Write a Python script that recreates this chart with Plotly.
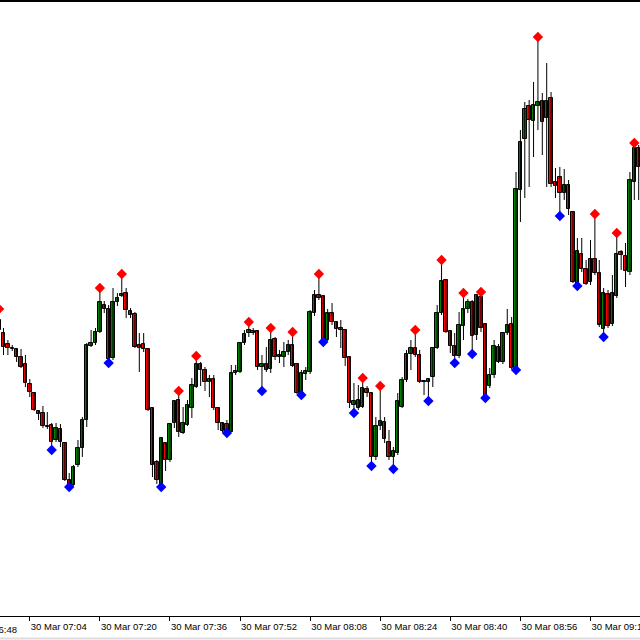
import plotly.graph_objects as go
import pandas as pd

# ---- data (M1 candles, 30 Mar, first bar 06:57) ----
start_time = "2023-03-30 06:57"
opens = [1.08296, 1.08283, 1.08272, 1.08268, 1.08267, 1.08259, 1.08252, 1.08232, 1.08223, 1.08205,
         1.08203, 1.08190, 1.08191, 1.08176, 1.08187, 1.08173, 1.08136, 1.08131, 1.08151, 1.08168,
         1.08196, 1.08270, 1.08273, 1.08284, 1.08311, 1.08307, 1.08258, 1.08314, 1.08320, 1.08323,
         1.08305, 1.08302, 1.08271, 1.08272, 1.08267, 1.08208, 1.08154, 1.08130, 1.08173, 1.08156,
         1.08193, 1.08216, 1.08183, 1.08191, 1.08208, 1.08229, 1.08252, 1.08246, 1.08234, 1.08237,
         1.08208, 1.08193, 1.08192, 1.08184, 1.08243, 1.08244, 1.08273, 1.08283, 1.08283, 1.08285,
         1.08249, 1.08252, 1.08247, 1.08277, 1.08261, 1.08259, 1.08264, 1.08271, 1.08252, 1.08222,
         1.08242, 1.08244, 1.08303, 1.08321, 1.08320, 1.08276, 1.08303, 1.08294, 1.08288, 1.08286,
         1.08259, 1.08211, 1.08208, 1.08209, 1.08227, 1.08223, 1.08159, 1.08190, 1.08194, 1.08174,
         1.08159, 1.08163, 1.08209, 1.08236, 1.08262, 1.08268, 1.08261, 1.08235, 1.08234, 1.08239,
         1.08268, 1.08303, 1.08336, 1.08285, 1.08270, 1.08260, 1.08290, 1.08307, 1.08314, 1.08281,
         1.08319, 1.08292, 1.08230, 1.08241, 1.08269, 1.08254, 1.08283, 1.08292, 1.08248, 1.08426,
         1.08477, 1.08510, 1.08495, 1.08510, 1.08515, 1.08498, 1.08518, 1.08434, 1.08439, 1.08423,
         1.08431, 1.08404, 1.08331, 1.08362, 1.08347, 1.08334, 1.08357, 1.08343, 1.08287, 1.08322,
         1.08292, 1.08320, 1.08364, 1.08360, 1.08344, 1.08434, 1.08468]
highs = [1.08307, 1.08288, 1.08276, 1.08271, 1.08268, 1.08267, 1.08261, 1.08237, 1.08224, 1.08206,
         1.08210, 1.08204, 1.08193, 1.08193, 1.08192, 1.08174, 1.08143, 1.08151, 1.08176, 1.08199,
         1.08273, 1.08286, 1.08288, 1.08328, 1.08315, 1.08311, 1.08328, 1.08323, 1.08342, 1.08328,
         1.08308, 1.08304, 1.08283, 1.08283, 1.08268, 1.08209, 1.08156, 1.08179, 1.08174, 1.08193,
         1.08216, 1.08225, 1.08209, 1.08216, 1.08238, 1.08260, 1.08254, 1.08249, 1.08241, 1.08241,
         1.08209, 1.08194, 1.08196, 1.08251, 1.08251, 1.08274, 1.08286, 1.08294, 1.08288, 1.08286,
         1.08261, 1.08269, 1.08288, 1.08279, 1.08266, 1.08274, 1.08276, 1.08284, 1.08253, 1.08246,
         1.08249, 1.08306, 1.08326, 1.08342, 1.08321, 1.08307, 1.08313, 1.08295, 1.08296, 1.08287,
         1.08260, 1.08233, 1.08231, 1.08238, 1.08230, 1.08224, 1.08199, 1.08230, 1.08199, 1.08186,
         1.08169, 1.08223, 1.08239, 1.08266, 1.08276, 1.08286, 1.08266, 1.08236, 1.08238, 1.08269,
         1.08311, 1.08356, 1.08337, 1.08286, 1.08283, 1.08304, 1.08323, 1.08317, 1.08316, 1.08322,
         1.08324, 1.08293, 1.08248, 1.08276, 1.08272, 1.08284, 1.08307, 1.08299, 1.08444, 1.08486,
         1.08514, 1.08516, 1.08534, 1.08579, 1.08523, 1.08553, 1.08524, 1.08448, 1.08449, 1.08447,
         1.08436, 1.08405, 1.08378, 1.08378, 1.08356, 1.08376, 1.08402, 1.08356, 1.08328, 1.08326,
         1.08341, 1.08383, 1.08366, 1.08373, 1.08444, 1.08473, 1.08471]
lows = [1.08282, 1.08261, 1.08261, 1.08265, 1.08254, 1.08248, 1.08229, 1.08219, 1.08205, 1.08196,
        1.08188, 1.08187, 1.08166, 1.08174, 1.08169, 1.08135, 1.08129, 1.08130, 1.08149, 1.08159,
        1.08189, 1.08269, 1.08271, 1.08283, 1.08303, 1.08253, 1.08256, 1.08310, 1.08319, 1.08298,
        1.08298, 1.08268, 1.08244, 1.08264, 1.08205, 1.08139, 1.08132, 1.08129, 1.08145, 1.08154,
        1.08188, 1.08179, 1.08182, 1.08190, 1.08198, 1.08228, 1.08230, 1.08225, 1.08219, 1.08206,
        1.08186, 1.08184, 1.08183, 1.08184, 1.08241, 1.08243, 1.08271, 1.08279, 1.08281, 1.08246,
        1.08225, 1.08244, 1.08243, 1.08256, 1.08253, 1.08249, 1.08261, 1.08249, 1.08222, 1.08221,
        1.08236, 1.08242, 1.08300, 1.08316, 1.08274, 1.08275, 1.08291, 1.08279, 1.08268, 1.08250,
        1.08208, 1.08203, 1.08206, 1.08208, 1.08219, 1.08150, 1.08156, 1.08186, 1.08173, 1.08156,
        1.08147, 1.08161, 1.08208, 1.08234, 1.08246, 1.08259, 1.08233, 1.08221, 1.08215, 1.08229,
        1.08267, 1.08301, 1.08283, 1.08263, 1.08253, 1.08258, 1.08276, 1.08303, 1.08262, 1.08276,
        1.08284, 1.08218, 1.08228, 1.08238, 1.08253, 1.08252, 1.08281, 1.08247, 1.08246, 1.08394,
        1.08418, 1.08429, 1.08459, 1.08486, 1.08461, 1.08429, 1.08429, 1.08418, 1.08400, 1.08416,
        1.08401, 1.08333, 1.08330, 1.08344, 1.08331, 1.08331, 1.08341, 1.08289, 1.08279, 1.08288,
        1.08290, 1.08318, 1.08346, 1.08329, 1.08341, 1.08416, 1.08416]
closes = [1.08286, 1.08269, 1.08268, 1.08267, 1.08259, 1.08249, 1.08233, 1.08224, 1.08206, 1.08202,
          1.08190, 1.08189, 1.08174, 1.08188, 1.08174, 1.08136, 1.08131, 1.08149, 1.08168, 1.08196,
          1.08271, 1.08273, 1.08284, 1.08314, 1.08307, 1.08257, 1.08314, 1.08318, 1.08322, 1.08306,
          1.08301, 1.08269, 1.08268, 1.08267, 1.08206, 1.08151, 1.08136, 1.08178, 1.08156, 1.08192,
          1.08215, 1.08184, 1.08193, 1.08211, 1.08231, 1.08252, 1.08246, 1.08234, 1.08237, 1.08208,
          1.08193, 1.08185, 1.08184, 1.08243, 1.08245, 1.08273, 1.08282, 1.08286, 1.08285, 1.08249,
          1.08252, 1.08246, 1.08276, 1.08259, 1.08259, 1.08264, 1.08271, 1.08250, 1.08223, 1.08243,
          1.08245, 1.08304, 1.08321, 1.08318, 1.08276, 1.08303, 1.08294, 1.08287, 1.08286, 1.08258,
          1.08213, 1.08215, 1.08216, 1.08228, 1.08223, 1.08159, 1.08190, 1.08195, 1.08177, 1.08159,
          1.08165, 1.08215, 1.08236, 1.08262, 1.08268, 1.08261, 1.08234, 1.08234, 1.08237, 1.08268,
          1.08303, 1.08335, 1.08284, 1.08270, 1.08260, 1.08291, 1.08307, 1.08314, 1.08280, 1.08321,
          1.08288, 1.08219, 1.08241, 1.08270, 1.08254, 1.08283, 1.08291, 1.08248, 1.08427, 1.08474,
          1.08507, 1.08496, 1.08511, 1.08514, 1.08494, 1.08515, 1.08432, 1.08430, 1.08423, 1.08431,
          1.08407, 1.08334, 1.08365, 1.08347, 1.08332, 1.08357, 1.08343, 1.08291, 1.08323, 1.08290,
          1.08323, 1.08362, 1.08361, 1.08345, 1.08436, 1.08468, 1.08449]

# bar positions (0 = first bar) where the Fractals indicator marks a high / a low
fractal_up_bars = [0, 23, 28, 41, 45, 57, 62, 67, 73, 83, 87, 95, 101, 106, 110, 123, 136, 141, 145]
fractal_down_bars = [12, 16, 25, 37, 52, 60, 69, 74, 81, 85, 90, 98, 104, 108, 111, 118, 128, 132, 138]

tick_times = ["2023-03-30 06:48", "2023-03-30 07:04", "2023-03-30 07:20", "2023-03-30 07:36",
              "2023-03-30 07:52", "2023-03-30 08:08", "2023-03-30 08:24", "2023-03-30 08:40",
              "2023-03-30 08:56", "2023-03-30 09:12"]
tick_labels = ["30 Mar 06:48", "30 Mar 07:04", "30 Mar 07:20", "30 Mar 07:36", "30 Mar 07:52",
               "30 Mar 08:08", "30 Mar 08:24", "30 Mar 08:40", "30 Mar 08:56", "30 Mar 09:12"]

# ---- build ----
times = pd.date_range(start_time, periods=len(opens), freq="min")

wx, wy = [], []
for t, h, l in zip(times, highs, lows):
    wx += [t, t, None]
    wy += [l, h, None]

body_base = [min(o, c) for o, c in zip(opens, closes)]
body_h = [max(abs(c - o), 0.000004) for o, c in zip(opens, closes)]
body_col = ["#008000" if c > o else "#FF0000" for o, c in zip(opens, closes)]

fig = go.Figure()
fig.add_trace(go.Scatter(x=wx, y=wy, mode="lines", line=dict(color="#000000", width=1),
                         hoverinfo="skip", showlegend=False))
fig.add_trace(go.Bar(x=times, y=body_h, base=body_base, width=0.78 * 60000,
                     marker=dict(color=body_col, line=dict(color="#000000", width=1)),
                     showlegend=False))
fig.add_trace(go.Scatter(x=[times[i] for i in fractal_up_bars], y=[highs[i] for i in fractal_up_bars],
                         mode="markers", marker=dict(symbol="diamond", size=8, color="#FF0000"),
                         showlegend=False))
fig.add_trace(go.Scatter(x=[times[i] for i in fractal_down_bars], y=[lows[i] for i in fractal_down_bars],
                         mode="markers", marker=dict(symbol="diamond", size=8, color="#0000FF"),
                         showlegend=False))

x0 = times[0] + pd.Timedelta(seconds=12)
x1 = x0 + pd.Timedelta(minutes=146.1)
span = (x1 - x0).total_seconds()

visible_ticks = [(pd.Timestamp(t), s) for t, s in zip(tick_times, tick_labels) if pd.Timestamp(t) >= x0]
hidden_ticks = [(pd.Timestamp(t), s) for t, s in zip(tick_times, tick_labels) if pd.Timestamp(t) < x0]

FONT = dict(family="Liberation Sans", size=9.5, color="#000000")

annotations = []
for t, s in hidden_ticks:
    annotations.append(dict(x=(t - x0).total_seconds() / span, xref="paper", y=0, yref="paper",
                            yshift=-6, xshift=-1, text=s, showarrow=False, xanchor="left",
                            yanchor="top", font=FONT))

fig.update_layout(
    width=640, height=640,
    margin=dict(l=0, r=0, t=2, b=24, pad=0, autoexpand=False),
    paper_bgcolor="#FFFFFF", plot_bgcolor="#FFFFFF",
    bargap=0, showlegend=False,
    font=FONT,
    annotations=annotations,
    shapes=[dict(type="line", xref="paper", yref="paper", x0=0, x1=1,
                 y0=1 + 1.0 / 614, y1=1 + 1.0 / 614, line=dict(color="#000000", width=2)),
            dict(type="line", xref="paper", yref="paper", x0=0, x1=1,
                 y0=-22.5 / 614, y1=-22.5 / 614, line=dict(color="#DDDDDD", width=2))],
    xaxis=dict(type="date", range=[x0, x1], showgrid=False, zeroline=False, automargin=False,
               showline=True, mirror=True, linecolor="#000000", linewidth=1,
               ticks="outside", ticklen=4, tickcolor="#000000", tickwidth=1,
               tickvals=[t for t, s in visible_ticks], ticktext=[s for t, s in visible_ticks],
               ticklabelposition="outside right", ticklabeloverflow="allow",
               ticklabelstandoff=2, tickfont=FONT),
    yaxis=dict(range=[1.08000, 1.08614], visible=False, showgrid=False, zeroline=False,
               automargin=False),
)

fig.write_html("out.html", config={"displayModeBar": False},
               post_script="document.body.style.margin='0px';document.body.style.overflow='hidden';")
